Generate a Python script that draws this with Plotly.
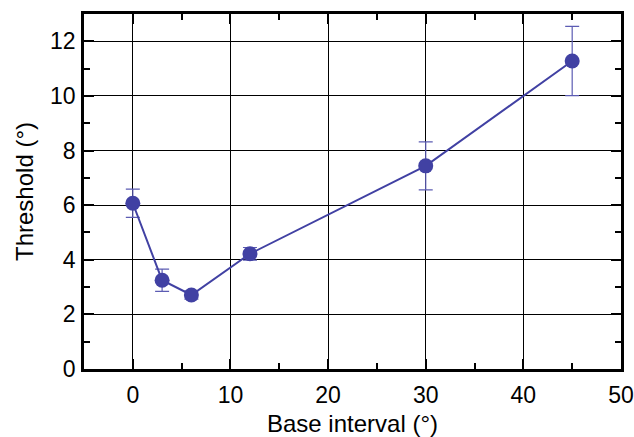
import plotly.graph_objects as go

# Threshold vs. base interval, with symmetric error bars
base_interval = [0, 3, 6, 12, 30, 45]
threshold = [6.07, 3.25, 2.71, 4.22, 7.44, 11.28]
threshold_err = [0.52, 0.41, 0.15, 0.23, 0.88, 1.27]

x_ticks = [0, 10, 20, 30, 40, 50]
y_ticks = [0, 2, 4, 6, 8, 10, 12]

line_color = "#4141A3"
err_color = "#5C5CB3"
tick_font = dict(family="Liberation Sans, Arial, sans-serif", size=23, color="black")
title_font = dict(family="Liberation Sans, Arial, sans-serif", size=24, color="black")

fig = go.Figure()
fig.add_trace(go.Scatter(
    x=base_interval,
    y=threshold,
    mode="lines+markers",
    line=dict(color=line_color, width=2),
    marker=dict(color=line_color, size=15),
    error_y=dict(type="data", array=threshold_err, visible=True,
                 color=err_color, thickness=1.2, width=7),
    showlegend=False,
))

axis_common = dict(
    showline=True, linecolor="black", linewidth=2.5, mirror="allticks",
    ticks="inside", ticklen=10, tickwidth=2, tickcolor="black",
    showgrid=True, gridcolor="black", gridwidth=1,
    zeroline=False, tickfont=tick_font, automargin=False,
)

fig.update_xaxes(
    range=[-5, 50], tickvals=x_ticks,
    minor=dict(dtick=5, tick0=0, ticks="inside", ticklen=6, tickwidth=2,
               tickcolor="black", showgrid=False),
    title=dict(text="Base interval (°)", font=title_font, standoff=10),
    ticklabelstandoff=4,
    **axis_common,
)
fig.update_yaxes(
    range=[0, 13], tickvals=y_ticks,
    minor=dict(dtick=1, tick0=0, ticks="inside", ticklen=6, tickwidth=2,
               tickcolor="black", showgrid=False),
    title=dict(text="Threshold (°)", font=title_font, standoff=10),
    ticklabelstandoff=1,
    **axis_common,
)

fig.update_layout(
    width=634, height=437,
    margin=dict(l=84, r=13, t=14, b=68),
    paper_bgcolor="white", plot_bgcolor="white",
    font=tick_font,
)

fig.write_html("out.html")
